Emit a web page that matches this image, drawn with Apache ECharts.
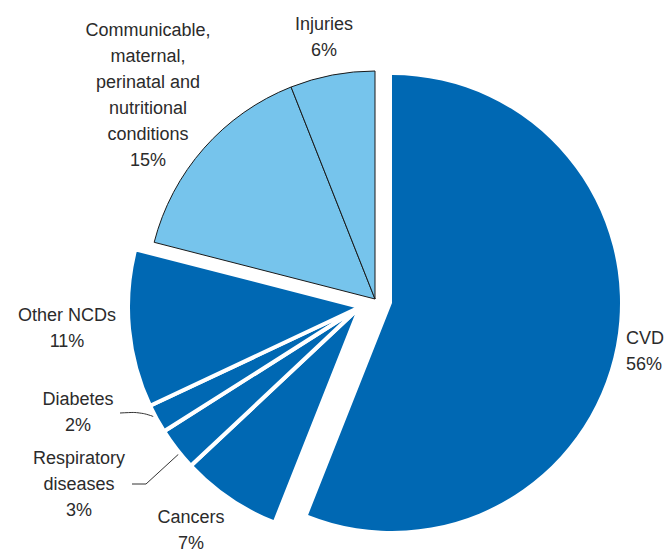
<!DOCTYPE html>
<html>
<head>
<meta charset="utf-8">
<script src="https://cdn.jsdelivr.net/npm/echarts@6/dist/echarts.min.js"></script>
<style>
  html, body { margin: 0; padding: 0; background: #fff; }
  #deathPie { width: 668px; height: 556px; }
</style>
</head>
<body>
<div id="deathPie"></div>
<script>
// share of deaths by cause (%), clockwise from 12 o'clock
var categories = ["CVD", "Cancers", "Respiratory diseases", "Diabetes", "Other NCDs",
  "Communicable, maternal, perinatal and nutritional conditions", "Injuries"];
var shares = [56, 7, 3, 2, 11, 15, 6];
var labelNames = ["CVD", "Cancers", "Respiratory\ndiseases", "Diabetes", "Other NCDs",
  "Communicable,\nmaternal,\nperinatal and\nnutritional\nconditions", "Injuries"];
var groups = ["cvd", "ncd", "ncd", "ncd", "ncd", "light", "light"];

// where each label sits (x, y, align)
var labelPos = [
  [626, 351, "left"],
  [191, 530, "center"],
  [79, 484, "center"],
  [78, 412, "center"],
  [67, 328, "center"],
  [148, 95, "center"],
  [324, 37, "center"]
];
// leader lines for the two thin slices
var leaders = {
  2: [[182, 451], [146, 484], [132, 484]],
  3: [[158, 418], [140, 412], [120, 413]]
};

var darkBlue = "#0068b3";
var lightBlue = "#76c4ec";

function buatData(grp) {
  return categories.map(function (nama, i) {
    var aktif = groups[i] === grp;
    var item = { name: nama, value: shares[i] };
    if (!aktif) {
      item.itemStyle = { color: "rgba(0,0,0,0)", borderWidth: 0 };
      item.label = { show: false };
      item.labelLine = { show: false };
      return item;
    }
    if (grp === "light") {
      item.itemStyle = { color: lightBlue, borderColor: "#1a1a1a", borderWidth: 1 };
    } else if (grp === "ncd") {
      item.itemStyle = { color: darkBlue, borderColor: "#ffffff", borderWidth: 4 };
    } else {
      item.itemStyle = { color: darkBlue, borderWidth: 0 };
    }
    // diabetes line is curved, respiratory one is straight
    item.labelLine = { show: !!leaders[i], smooth: i === 3 ? 0.3 : false };
    return item;
  });
}

function buatSeries(grp, center, radius) {
  return {
    type: "pie",
    center: center,
    radius: radius,
    startAngle: 90,
    clockwise: true,
    silent: true,
    avoidLabelOverlap: false,
    data: buatData(grp),
    label: {
      show: true,
      formatter: function (p) {
        return labelNames[p.dataIndex] + "\n" + p.value + "%";
      },
      fontFamily: "Liberation Sans, Arial, sans-serif",
      fontSize: 18,
      lineHeight: 26,
      color: "#2b2b2b"
    },
    labelLine: {
      show: false,
      lineStyle: { color: "#333", width: 1 }
    },
    labelLayout: function (params) {
      var pos = labelPos[params.dataIndex];
      var out = { x: pos[0], y: pos[1], align: pos[2], verticalAlign: "middle" };
      if (leaders[params.dataIndex]) {
        out.labelLinePoints = leaders[params.dataIndex];
      }
      return out;
    }
  };
}

var chart = echarts.init(document.getElementById("deathPie"), null, { renderer: "svg" });

var option = {
  animation: false,
  backgroundColor: "#ffffff",
  series: [
    buatSeries("light", [375, 299], 228),
    buatSeries("ncd", [360, 307], 232),
    buatSeries("cvd", [392, 303], 228)
  ]
};

chart.setOption(option);
</script>
</body>
</html>
